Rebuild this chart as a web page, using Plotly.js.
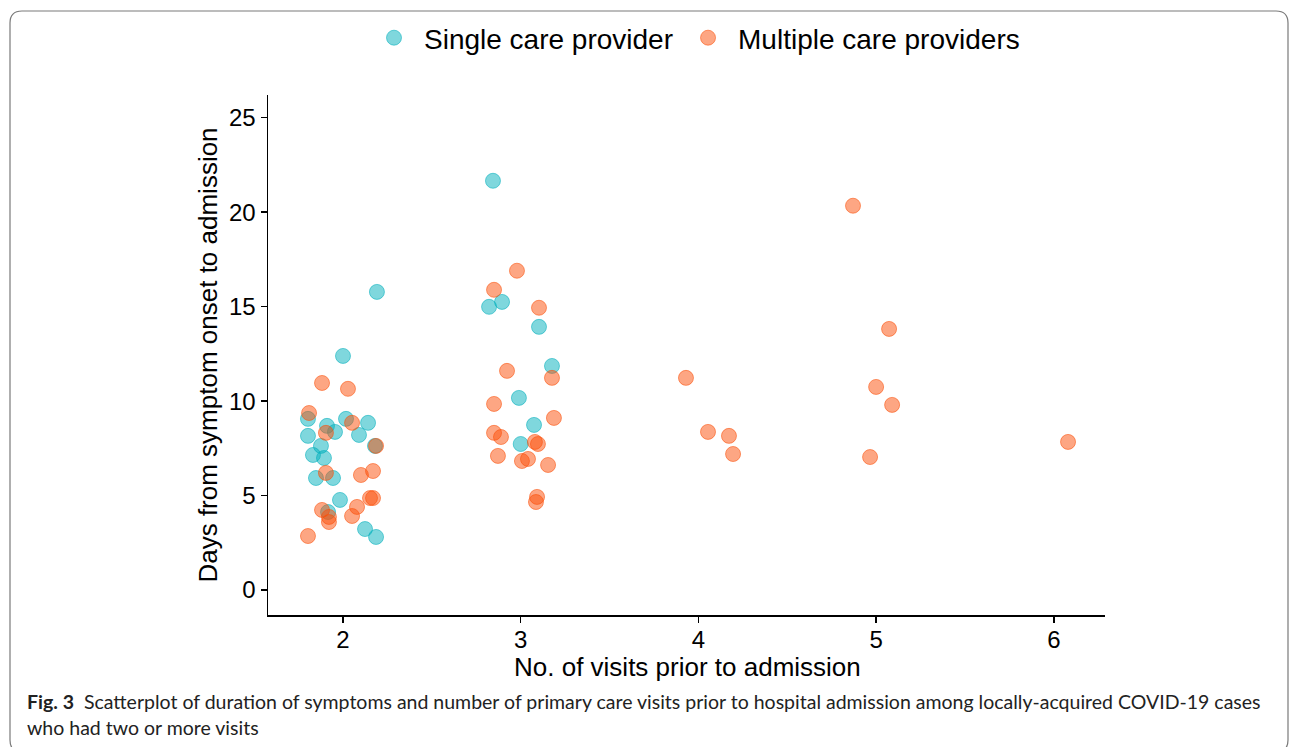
<!DOCTYPE html>
<html>
<head>
<meta charset="utf-8">
<script src="https://cdn.plot.ly/plotly-3.0.1.min.js"></script>
<style>
html,body{margin:0;padding:0;background:#fff;}
#chart{width:1293px;height:747px;}
</style>
</head>
<body>
<div id="chart"></div>
<script>
// Single care provider (teal)
const singleVisits = [2.191, 2.000, 1.803, 2.017, 2.141, 1.910, 1.955, 1.803, 2.090, 1.876, 2.180, 1.831, 1.893, 1.848, 1.944, 1.983, 1.916, 2.124, 2.186,
  2.844, 2.895, 2.822, 3.103, 3.176, 2.990, 3.075, 3.000];
const singleDays = [15.78, 12.39, 9.06, 9.06, 8.85, 8.69, 8.37, 8.16, 8.21, 7.63, 7.63, 7.15, 6.99, 5.93, 5.93, 4.77, 4.13, 3.23, 2.81,
  21.66, 15.25, 14.99, 13.93, 11.86, 10.17, 8.74, 7.73];

// Multiple care providers (orange)
const multiVisits = [1.882, 2.028, 1.809, 2.051, 1.904, 2.186, 1.904, 2.101, 2.169, 2.169, 2.152, 2.079, 2.051, 1.882, 1.921, 1.921, 1.803,
  2.979, 2.850, 3.103, 3.176, 2.923, 2.850, 3.187, 2.850, 2.889, 3.080, 3.097, 2.872, 3.007, 3.041, 3.154, 3.092, 3.086,
  3.930, 4.054, 4.172, 4.195, 4.870, 5.073, 5.000, 5.090, 4.966, 6.080];
const multiDays = [10.96, 10.65, 9.37, 8.85, 8.32, 7.63, 6.20, 6.09, 6.30, 4.87, 4.87, 4.40, 3.92, 4.24, 3.87, 3.60, 2.86,
  16.90, 15.89, 14.94, 11.23, 11.60, 9.85, 9.11, 8.32, 8.10, 7.84, 7.73, 7.10, 6.83, 6.94, 6.62, 4.93, 4.66,
  11.23, 8.37, 8.16, 7.20, 20.34, 13.82, 10.75, 9.80, 7.04, 7.84];

const seriesNames = ["Single care provider", "Multiple care providers"];
const xTicks = [2, 3, 4, 5, 6];
const yTicks = [0, 5, 10, 15, 20, 25];
const xTitle = "No. of visits prior to admission";
const yTitle = "Days from symptom onset to admission";

const teal = "0,175,187";
const orange = "252,78,7";

function mk(rgb) {
  return {
    size: 15,
    color: "rgba(" + rgb + ",0.5)",
    line: {width: 1, color: "rgba(" + rgb + ",0.55)"}
  };
}

const traces = [
  {x: singleVisits, y: singleDays, type: "scatter", mode: "markers", name: seriesNames[0], marker: mk(teal), hoverinfo: "x+y"},
  {x: multiVisits, y: multiDays, type: "scatter", mode: "markers", name: seriesNames[1], marker: mk(orange), hoverinfo: "x+y"}
];

const W = 1293, H = 747;
const L = 268, R = 1105, T = 95, B = 615;
const pw = R - L, ph = B - T;
function px(x) { return (x - L) / pw; }
function py(y) { return (B - y) / ph; }

// rounded border frame
const x0 = px(10), x1 = px(1288), y0 = py(11), y1 = py(752);
const rx = 12 / pw, ry = 12 / ph;
const framePath = "M " + (x0 + rx) + " " + y0 +
  " L " + (x1 - rx) + " " + y0 +
  " Q " + x1 + " " + y0 + " " + x1 + " " + (y0 - ry) +
  " L " + x1 + " " + (y1 + ry) +
  " Q " + x1 + " " + y1 + " " + (x1 - rx) + " " + y1 +
  " L " + (x0 + rx) + " " + y1 +
  " Q " + x0 + " " + y1 + " " + x0 + " " + (y1 + ry) +
  " L " + x0 + " " + (y0 - ry) +
  " Q " + x0 + " " + y0 + " " + (x0 + rx) + " " + y0 + " Z";

const axisFont = {family: "Liberation Sans, Arial, sans-serif", size: 24, color: "#000"};
const titleFont = {family: "Liberation Sans, Arial, sans-serif", size: 26, color: "#000"};

const layout = {
  width: W, height: H,
  margin: {l: L, r: W - R, t: T, b: H - B, pad: 0},
  paper_bgcolor: "#fff", plot_bgcolor: "#fff",
  showlegend: true,
  legend: {
    orientation: "h", x: px(364), xanchor: "left", y: py(38), yanchor: "middle",
    itemwidth: 50,
    font: {family: "Liberation Sans, Arial, sans-serif", size: 28, color: "#000"},
    bgcolor: "rgba(0,0,0,0)", itemclick: false, itemdoubleclick: false
  },
  xaxis: {
    range: [1.578, 6.288], tickvals: xTicks, ticktext: xTicks.map(String),
    showgrid: false, zeroline: false, showline: true, linecolor: "#000", linewidth: 1.5,
    ticks: "outside", ticklen: 6, tickwidth: 1.5, tickcolor: "#000",
    ticklabelstandoff: -3,
    tickfont: axisFont
  },
  yaxis: {
    range: [-1.32, 26.2], tickvals: yTicks, ticktext: yTicks.map(String),
    showgrid: false, zeroline: false, showline: true, linecolor: "#000", linewidth: 1.5,
    ticks: "outside", ticklen: 6, tickwidth: 1.5, tickcolor: "#000",
    tickfont: axisFont,
    title: {text: yTitle, font: titleFont, standoff: 4}
  },
  shapes: [
    {type: "path", xref: "paper", yref: "paper", path: framePath, line: {color: "#7a7a7a", width: 1.2}, fillcolor: "rgba(0,0,0,0)", layer: "below"}
  ],
  annotations: [
    {xref: "paper", yref: "paper", x: 0.501, y: py(667), xanchor: "center", yanchor: "middle", showarrow: false,
     text: xTitle, font: titleFont},
    {xref: "paper", yref: "paper", x: px(25), y: py(701), xanchor: "left", yanchor: "middle", showarrow: false,
     align: "left",
     text: "<b>Fig. 3</b>  Scatterplot of duration of symptoms and number of primary care visits prior to hospital admission among locally-acquired COVID-19 cases",
     font: {family: "Lato, Noto Sans, sans-serif", size: 19.5, color: "#222"}},
    {xref: "paper", yref: "paper", x: px(25), y: py(727), xanchor: "left", yanchor: "middle", showarrow: false,
     align: "left",
     text: "who had two or more visits",
     font: {family: "Lato, Noto Sans, sans-serif", size: 19.5, color: "#222"}}
  ]
};

Plotly.newPlot("chart", traces, layout, {displayModeBar: false, staticPlot: true});
</script>
</body>
</html>
